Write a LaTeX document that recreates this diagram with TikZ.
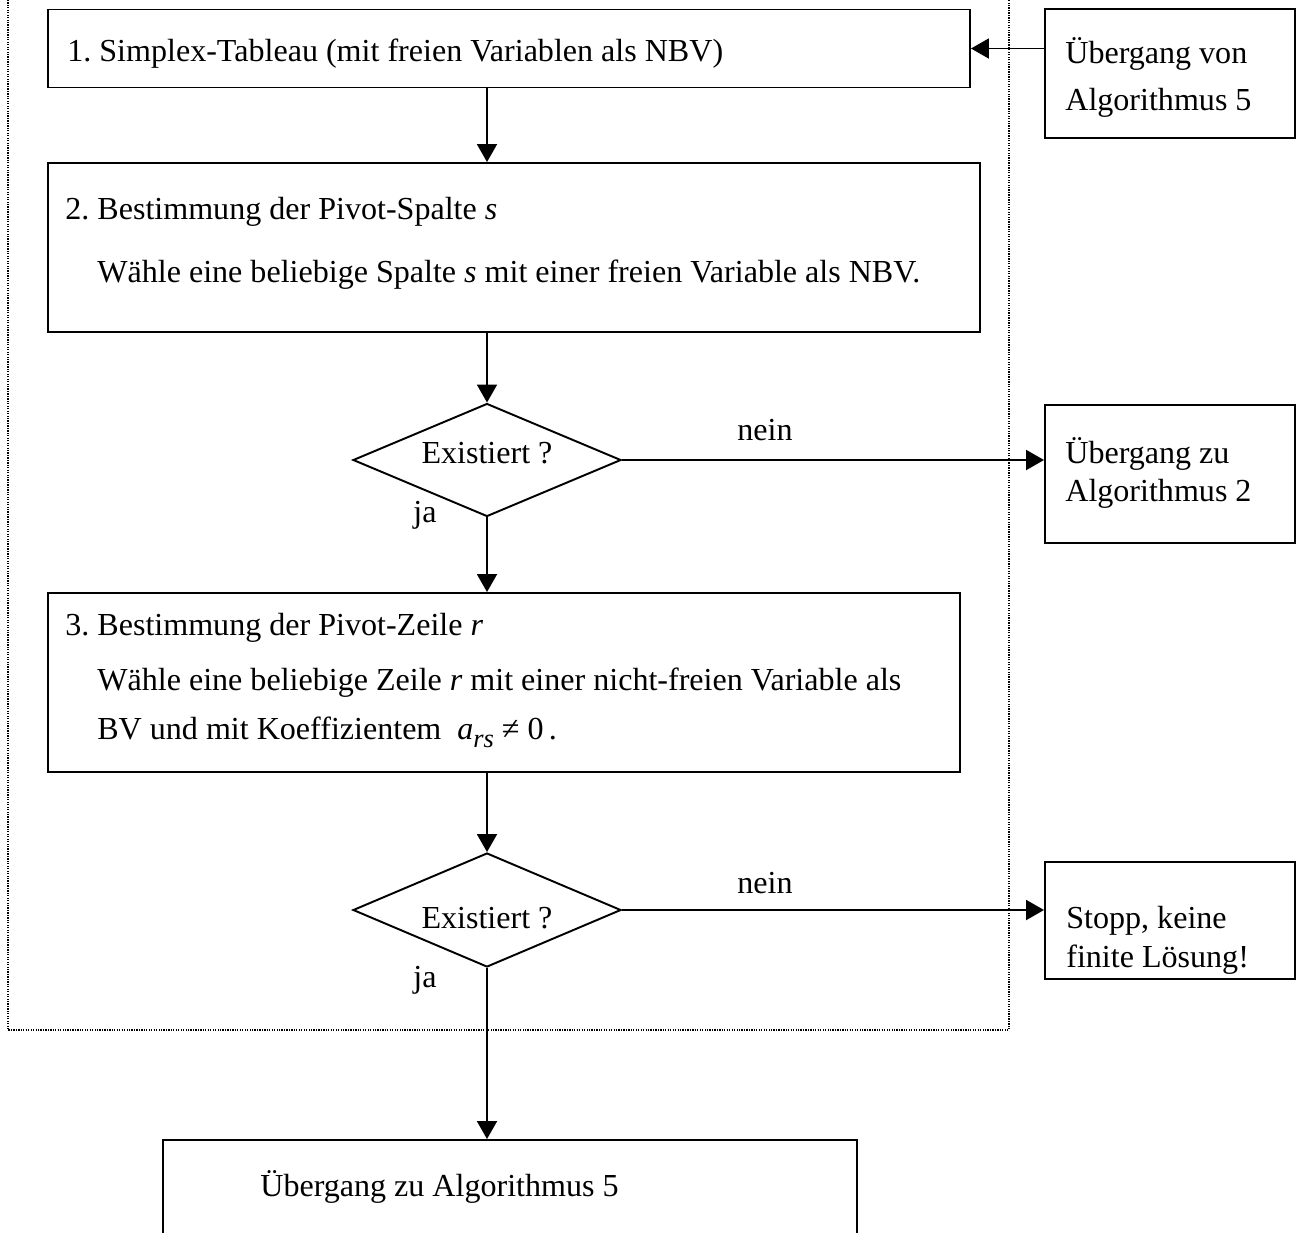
\documentclass[tikz,border=0pt]{standalone}
\usepackage{fontspec}
\setmainfont{Liberation Serif}
\frenchspacing
\usetikzlibrary{arrows.meta,shapes.geometric}
\newdimen\pu \pu=0.02cm
\begin{document}
\begin{tikzpicture}[x=0.02cm,y=-0.02cm,
  every node/.style={font=\fontsize{18.25}{21}\selectfont},
  box/.style={draw,line width=1.1pt,inner sep=0pt},
  dia/.style={draw,line width=1.1pt,shape=diamond,inner sep=0pt},
  txt/.style={inner sep=0pt,anchor=base west},
  lbl/.style={inner sep=0pt,anchor=base},
  arr/.style={line width=1.1pt,-{Triangle[length=0.36cm,width=0.4cm]}}]
\useasboundingbox (0,0) rectangle (1298,1232);
% dotted frame
\draw[line width=0.7pt,dash pattern=on 0.7pt off 0.7pt] (8,-10) rectangle (1009,1030);
% step 1
\node[box,minimum width=922*\pu,minimum height=78*\pu] (b1) at (509,48.5) {};
\node[txt] (t1) at (67,61) {1. Simplex-Tableau (mit freien Variablen als NBV)};
\node[box,minimum width=250*\pu,minimum height=129*\pu] (bA) at (1170,73.5) {};
\node[txt] (tA1) at (1065,63) {Übergang von};
\node[txt] (tA2) at (1065,110) {Algorithmus 5};
% step 2
\node[box,minimum width=932*\pu,minimum height=169*\pu] (b2) at (514,247.5) {};
\node[txt] (t21) at (65,219) {2. Bestimmung der Pivot-Spalte \textit{s}};
\node[txt] (t22) at (97,282) {Wähle eine beliebige Spalte \textit{s} mit einer freien Variable als NBV.};
\node[dia,minimum width=268*\pu,minimum height=113*\pu] (d1) at (487,460) {};
\node[lbl] (td1) at (487,463) {Existiert ?};
\node[lbl] (n1) at (765,440) {nein};
\node[txt] (j1) at (413,522) {ja};
\node[box,minimum width=250*\pu,minimum height=138*\pu] (bB) at (1170,474) {};
\node[txt] (tB1) at (1065,463) {Übergang zu};
\node[txt] (tB2) at (1065,501) {Algorithmus 2};
% step 3
\node[box,minimum width=912*\pu,minimum height=179*\pu] (b3) at (504,682.5) {};
\node[txt] (t31) at (65,635) {3. Bestimmung der Pivot-Zeile \textit{r}};
\node[txt] (t32) at (97,690) {Wähle eine beliebige Zeile \textit{r} mit einer nicht-freien Variable als};
\node[txt] (t33) at (97,739) {BV und mit Koeffizientem \ \textit{a}\raisebox{-0.55ex}{\fontsize{15}{15}\selectfont\textit{rs}}\ ≠\ 0\,.};
\node[dia,minimum width=268*\pu,minimum height=114*\pu] (d2) at (487,910) {};
\node[lbl] (td2) at (487,928) {Existiert ?};
\node[lbl] (n2) at (765,893) {nein};
\node[txt] (j2) at (413,987) {ja};
\node[box,minimum width=250*\pu,minimum height=117*\pu] (bC) at (1170,920.5) {};
\node[txt] (tC1) at (1066,928) {Stopp, keine};
\node[txt] (tC2) at (1066,967) {finite Lösung!};
% final
\node[box,minimum width=694*\pu,minimum height=130*\pu] (b4) at (510,1205) {};
\node[txt] (t4) at (260,1196) {Übergang zu Algorithmus 5};
% connectors
\draw[arr] (bA.west |- b1.east) -- (b1.east);
\draw[arr] (b1.south -| d1.north) -- (b2.north -| d1.north);
\draw[arr] (b2.south -| d1.north) -- (d1.north);
\draw[arr] (d1.east) -- (d1.east -| bB.west);
\draw[arr] (d1.south) -- (b3.north -| d1.south);
\draw[arr] (b3.south -| d2.north) -- (d2.north);
\draw[arr] (d2.east) -- (d2.east -| bC.west);
\draw[arr] (d2.south) -- (b4.north -| d2.south);
\end{tikzpicture}
\end{document}
